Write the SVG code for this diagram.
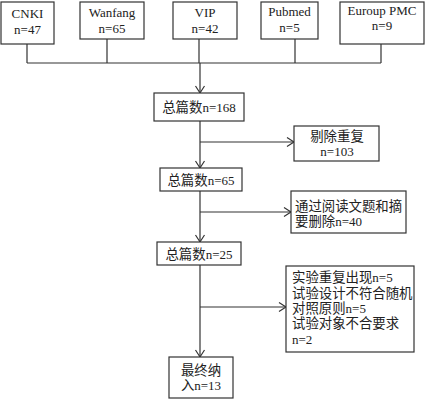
<svg xmlns="http://www.w3.org/2000/svg" width="425" height="401" viewBox="0 0 425 401">
<style>
rect{fill:#fff;stroke:#333;stroke-width:1.2}
text{fill:#222}
.z{font-family:"Noto Sans CJK SC",sans-serif;font-size:13.4px}
.c{text-anchor:middle}
.ln{fill:none;stroke:#333;stroke-width:1.2}
</style>
<defs>
<marker id="ar" markerWidth="12" markerHeight="12" refX="9" refY="6" orient="auto" markerUnits="userSpaceOnUse">
<polyline points="2,1.5 9,6 2,10.5" fill="none" stroke="#333" stroke-width="1.2"/>
</marker>
</defs>
<rect x="0" y="0" width="425" height="401" style="stroke:none"/>
<g id="connectors">
<path class="ln" d="M27,44V63M107,39V63M295,39V63M381,44V63M27,63H381M199,39V63"/>
<path class="ln" d="M200,63V93" marker-end="url(#ar)"/>
<path class="ln" d="M200,121V168" marker-end="url(#ar)"/>
<path class="ln" d="M200,142H294" marker-end="url(#ar)"/>
<path class="ln" d="M200,191V242" marker-end="url(#ar)"/>
<path class="ln" d="M200,212H291" marker-end="url(#ar)"/>
<path class="ln" d="M200,265V357" marker-end="url(#ar)"/>
<path class="ln" d="M200,307H286" marker-end="url(#ar)"/>
</g>
<g font-family="Liberation Serif, serif" font-size="13">
<g id="cnki"><rect x="1" y="2" width="53" height="42"/><text class="c" x="27.5" y="18">CNKI</text><text class="c" x="27.5" y="34">n=47</text></g>
<g id="wanfang"><rect x="80" y="2" width="64" height="37"/><text class="c" x="112" y="17">Wanfang</text><text class="c" x="112" y="33">n=65</text></g>
<g id="vip"><rect x="173" y="2" width="64" height="37"/><text class="c" x="205" y="17">VIP</text><text class="c" x="205" y="33">n=42</text></g>
<g id="pubmed"><rect x="261" y="2" width="57" height="37"/><text class="c" x="289.5" y="16">Pubmed</text><text class="c" x="289.5" y="32">n=5</text></g>
<g id="europmc"><rect x="340" y="2" width="84" height="42"/><text class="c" x="382" y="15">Euroup PMC</text><text class="c" x="382" y="30">n=9</text></g>
<g id="n168"><rect x="154" y="93" width="90" height="28"/><text class="c" x="199" y="112"><tspan class="z">总篇数</tspan>n=168</text></g>
<g id="dup"><rect x="294" y="126" width="85" height="35"/><text class="c" x="337" y="141"><tspan class="z">剔除重复</tspan></text><text class="c" x="337" y="156">n=103</text></g>
<g id="n65"><rect x="160" y="168" width="82" height="23"/><text class="c" x="201" y="185"><tspan class="z">总篇数</tspan>n=65</text></g>
<g id="read"><rect x="291" y="191" width="115" height="42"/><text x="295" y="211"><tspan class="z">通过阅读文题和摘</tspan></text><text x="295" y="226"><tspan class="z">要删除</tspan>n=40</text></g>
<g id="n25"><rect x="157" y="242" width="84" height="23"/><text class="c" x="199" y="259"><tspan class="z">总篇数</tspan>n=25</text></g>
<g id="excl"><rect x="286" y="266" width="128" height="86"/>
<text x="292" y="282"><tspan class="z">实验重复出现</tspan>n=5</text>
<text x="292" y="298"><tspan class="z">试验设计不符合随机</tspan></text>
<text x="292" y="313"><tspan class="z">对照原则</tspan>n=5</text>
<text x="292" y="328"><tspan class="z">试验对象不合要求</tspan></text>
<text x="292" y="344">n=2</text></g>
<g id="final"><rect x="169" y="357" width="64" height="41"/><text class="c" x="201" y="375"><tspan class="z">最终纳</tspan></text><text class="c" x="201" y="390"><tspan class="z">入</tspan>n=13</text></g>
</g>
</svg>
